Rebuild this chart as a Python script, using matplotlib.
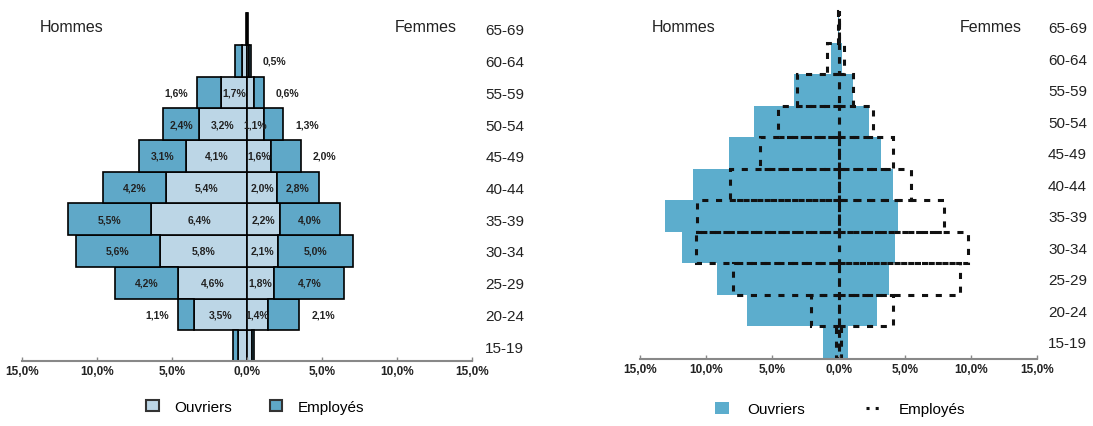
import matplotlib
matplotlib.use('Agg')
from matplotlib import pyplot as plt
from matplotlib.lines import Line2D

plt.rcParams['font.family'] = ['Liberation Sans', 'DejaVu Sans']

ages = ['15-19', '20-24', '25-29', '30-34', '35-39', '40-44',
        '45-49', '50-54', '55-59', '60-64', '65-69']

# left chart: share of the whole population (%)
hommes_ouvriers = [0.6, 3.5, 4.6, 5.8, 6.4, 5.4, 4.1, 3.2, 1.7, 0.3, 0.03]
hommes_employes = [0.3, 1.1, 4.2, 5.6, 5.5, 4.2, 3.1, 2.4, 1.6, 0.5, 0.03]
femmes_ouvriers = [0.35, 1.4, 1.8, 2.1, 2.2, 2.0, 1.6, 1.1, 0.5, 0.15, 0.03]
femmes_employes = [0.1, 2.1, 4.7, 5.0, 4.0, 2.8, 2.0, 1.3, 0.6, 0.1, 0.03]

# printed labels (None = no label)
lab_ho = [None, 3.5, 4.6, 5.8, 6.4, 5.4, 4.1, 3.2, 1.7, None, None]
lab_he = [None, 1.1, 4.2, 5.6, 5.5, 4.2, 3.1, 2.4, 1.6, None, None]
lab_fo = [None, 1.4, 1.8, 2.1, 2.2, 2.0, 1.6, 1.1, None, None, None]
lab_fe = [None, 2.1, 4.7, 5.0, 4.0, 2.8, 2.0, 1.3, 0.6, 0.5, None]

# right chart: share within each category (%)
ouv_hommes = [1.2, 6.9, 9.2, 11.8, 13.1, 11.0, 8.3, 6.4, 3.4, 0.6, 0.05]
ouv_femmes = [0.7, 2.9, 3.8, 4.3, 4.5, 4.1, 3.2, 2.3, 1.1, 0.3, 0.05]
emp_hommes = [0.2, 2.1, 8.0, 10.8, 10.7, 8.2, 5.9, 4.6, 3.1, 0.85, 0.05]
emp_femmes = [0.2, 4.1, 9.2, 9.8, 8.0, 5.5, 4.1, 2.6, 1.1, 0.4, 0.05]

xticks = [-15, -10, -5, 0, 5, 10, 15]
xticklabels = ['15,0%', '10,0%', '5,0%', '0,0%', '5,0%', '10,0%', '15,0%']

light = '#bcd6e6'
dark = '#5fa8c8'
fill_ouv = '#5cadcd'
txt = '#222222'

W, H = 1093, 427
fig = plt.figure(figsize=(W / 100, H / 100), dpi=100)

ax1 = fig.add_axes([22 / W, 1 - 362 / H, 450 / W, 352 / H])
ax2 = fig.add_axes([640 / W, 1 - 360 / H, 397 / W, 350 / H])

y = list(range(len(ages)))


def fmt(v):
    return ('%.1f%%' % v).replace('.', ',')


# ---- left chart
neg_ho = [-v for v in hommes_ouvriers]
neg_he = [-v for v in hommes_employes]
ax1.barh(y, neg_ho, height=1.0, color=light, edgecolor='black', linewidth=1.2)
ax1.barh(y, neg_he, left=neg_ho, height=1.0, color=dark, edgecolor='black', linewidth=1.2)
ax1.barh(y, femmes_ouvriers, height=1.0, color=light, edgecolor='black', linewidth=1.2)
ax1.barh(y, femmes_employes, left=femmes_ouvriers, height=1.0, color=dark,
         edgecolor='black', linewidth=1.2)

lab_kw = dict(fontsize=7.5, fontweight='bold', color=txt, va='center')
for i in y:
    if lab_ho[i] is not None:
        ax1.text(-hommes_ouvriers[i] / 2, i, fmt(lab_ho[i]), ha='center', **lab_kw)
    if lab_he[i] is not None:
        end = -hommes_ouvriers[i] - hommes_employes[i]
        if hommes_employes[i] < 2.3:
            ax1.text(end - 0.6, i, fmt(lab_he[i]), ha='right', **lab_kw)
        else:
            ax1.text(end + hommes_employes[i] / 2, i, fmt(lab_he[i]), ha='center', **lab_kw)
    if lab_fo[i] is not None:
        ax1.text(femmes_ouvriers[i] / 2, i, fmt(lab_fo[i]), ha='center', **lab_kw)
    if lab_fe[i] is not None:
        end = femmes_ouvriers[i] + femmes_employes[i]
        if femmes_employes[i] < 2.3:
            ax1.text(end + 0.8, i, fmt(lab_fe[i]), ha='left', **lab_kw)
        else:
            ax1.text(end - femmes_employes[i] / 2, i, fmt(lab_fe[i]), ha='center', **lab_kw)

# ---- right chart
neg_oh = [-v for v in ouv_hommes]
neg_eh = [-v for v in emp_hommes]
ax2.barh(y, neg_oh, height=1.0, color=fill_ouv, linewidth=0)
ax2.barh(y, ouv_femmes, height=1.0, color=fill_ouv, linewidth=0)
ax2.barh(y, neg_eh, height=1.0, fill=False, edgecolor='#111111', linewidth=2.2,
         linestyle=(0, (2.0, 2.5)))
ax2.barh(y, emp_femmes, height=1.0, fill=False, edgecolor='#111111', linewidth=2.2,
         linestyle=(0, (2.0, 2.5)))

for ax, ylo, yhi, pad in [(ax1, -0.47, 10.63, 9.5), (ax2, -0.54, 10.57, 8)]:
    ax.set_xlim(-15, 15)
    ax.set_ylim(ylo, yhi)
    ax.set_xticks(xticks)
    ax.set_xticklabels(xticklabels, fontsize=8.5, fontweight='bold', color=txt)
    ax.set_yticks(y)
    ax.set_yticklabels(ages, fontsize=11, color=txt)
    ax.yaxis.tick_right()
    ax.tick_params(axis='y', length=0, pad=pad)
    ax.tick_params(axis='x', length=3, width=1, color='#888888', direction='in', pad=3)
    for s in ['top', 'left', 'right']:
        ax.spines[s].set_visible(False)
    ax.spines['bottom'].set_color('#888888')
    ax.spines['bottom'].set_linewidth(1.5)
    ax.text(0.04 if ax is ax1 else 0.03, 0.95, 'Hommes', transform=ax.transAxes,
            fontsize=11.5, color=txt, ha='left', va='center')
    ax.text(0.829 if ax is ax1 else 0.806, 0.95, 'Femmes', transform=ax.transAxes,
            fontsize=11.5, color=txt, ha='left', va='center')

# legends
h1 = [plt.Rectangle((0, 0), 1, 1, facecolor=light, edgecolor='#333333', linewidth=1.5),
      plt.Rectangle((0, 0), 1, 1, facecolor=dark, edgecolor='#333333', linewidth=1.5)]
ax1.legend(h1, ['Ouvriers', 'Employés'], loc='center', bbox_to_anchor=(0.518, -0.13),
           ncol=2, frameon=False, fontsize=11, handlelength=0.8, handleheight=0.8,
           handletextpad=1.0, columnspacing=2.5)

h2 = [plt.Rectangle((0, 0), 1, 1, facecolor=fill_ouv, linewidth=0),
      Line2D([0], [0], color='#111111', linewidth=2.2, linestyle=(0, (1.0, 2.0)))]
ax2.legend(h2, ['Ouvriers', 'Employés'], loc='center', bbox_to_anchor=(0.504, -0.143),
           ncol=2, frameon=False, fontsize=11, handlelength=0.9, handleheight=0.8,
           handletextpad=1.2, columnspacing=4)

fig.savefig('out.png', dpi=100)
